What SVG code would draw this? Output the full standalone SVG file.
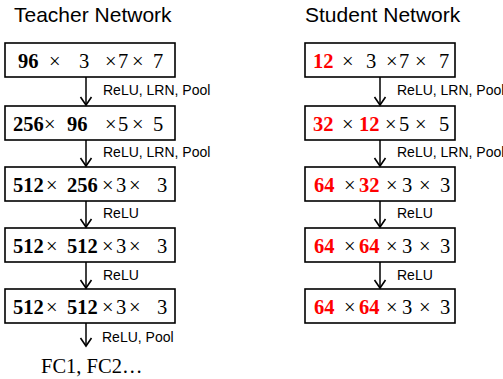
<svg xmlns="http://www.w3.org/2000/svg" width="503" height="379" viewBox="0 0 503 379">
  <style>
    .title { font-family: "Liberation Sans", Arial, sans-serif; font-size: 21px; fill: #000; }
    .box { fill: #fff; stroke: #000; stroke-width: 1.6; }
    .dim { font-family: "Liberation Serif", "Times New Roman", serif; font-size: 20.5px; fill: #000; }
    .b { font-weight: bold; }
    .r { font-weight: bold; fill: #ff0000; }
    .op { font-family: "Liberation Sans", Arial, sans-serif; font-size: 14px; fill: #000; }
    .conn { stroke: #000; stroke-width: 1.5; fill: none; }
  </style>
  <defs>
    <marker id="arrow" viewBox="-10 -7 12 14" refX="0" refY="0" markerWidth="12" markerHeight="14" markerUnits="userSpaceOnUse" orient="auto">
      <path d="M -8,-5.5 L 0,0 L -8,5.5" fill="none" stroke="#000" stroke-width="1.6"/>
    </marker>
  </defs>

  <text class="title" x="14" y="22">Teacher Network</text>
  <text class="title" x="305" y="22">Student Network</text>

  <!-- teacher column -->
  <g id="t1">
    <rect class="box" x="5" y="43" width="170" height="34"/>
    <text class="dim" y="68"><tspan class="b" x="18">96</tspan><tspan x="49">×</tspan><tspan x="79">3</tspan><tspan x="105">×</tspan><tspan x="118">7</tspan><tspan x="132">×</tspan><tspan x="153">7</tspan></text>
  </g>
  <g id="t2">
    <rect class="box" x="5" y="106" width="170" height="34"/>
    <text class="dim" y="131"><tspan class="b" x="13">256</tspan><tspan x="44">×</tspan><tspan class="b" x="67">96</tspan><tspan x="105">×</tspan><tspan x="118">5</tspan><tspan x="132">×</tspan><tspan x="153">5</tspan></text>
  </g>
  <g id="t3">
    <rect class="box" x="5" y="167" width="170" height="34"/>
    <text class="dim" y="192"><tspan class="b" x="13">512</tspan><tspan x="46">×</tspan><tspan class="b" x="67">256</tspan><tspan x="102">×</tspan><tspan x="116">3</tspan><tspan x="129">×</tspan><tspan x="157">3</tspan></text>
  </g>
  <g id="t4">
    <rect class="box" x="5" y="228" width="170" height="34"/>
    <text class="dim" y="253"><tspan class="b" x="13">512</tspan><tspan x="46">×</tspan><tspan class="b" x="67">512</tspan><tspan x="102">×</tspan><tspan x="116">3</tspan><tspan x="129">×</tspan><tspan x="157">3</tspan></text>
  </g>
  <g id="t5">
    <rect class="box" x="5" y="289" width="170" height="34"/>
    <text class="dim" y="314"><tspan class="b" x="13">512</tspan><tspan x="46">×</tspan><tspan class="b" x="67">512</tspan><tspan x="102">×</tspan><tspan x="116">3</tspan><tspan x="129">×</tspan><tspan x="157">3</tspan></text>
  </g>
  <g id="fc">
    <text class="dim" x="41" y="373" font-size="21">FC1, FC2…</text>
  </g>

  <!-- student column -->
  <g id="s1">
    <rect class="box" x="305" y="43" width="150" height="34"/>
    <text class="dim" y="68"><tspan class="r" x="313">12</tspan><tspan x="342">×</tspan><tspan x="366">3</tspan><tspan x="386">×</tspan><tspan x="399">7</tspan><tspan x="415">×</tspan><tspan x="439">7</tspan></text>
  </g>
  <g id="s2">
    <rect class="box" x="305" y="106" width="150" height="34"/>
    <text class="dim" y="131"><tspan class="r" x="313">32</tspan><tspan x="342">×</tspan><tspan class="r" x="359">12</tspan><tspan x="385">×</tspan><tspan x="399">5</tspan><tspan x="415">×</tspan><tspan x="439">5</tspan></text>
  </g>
  <g id="s3">
    <rect class="box" x="305" y="167" width="150" height="34"/>
    <text class="dim" y="192"><tspan class="r" x="314">64</tspan><tspan x="344">×</tspan><tspan class="r" x="359">32</tspan><tspan x="386">×</tspan><tspan x="402">3</tspan><tspan x="419">×</tspan><tspan x="440">3</tspan></text>
  </g>
  <g id="s4">
    <rect class="box" x="305" y="228" width="150" height="34"/>
    <text class="dim" y="253"><tspan class="r" x="314">64</tspan><tspan x="344">×</tspan><tspan class="r" x="359">64</tspan><tspan x="386">×</tspan><tspan x="402">3</tspan><tspan x="419">×</tspan><tspan x="440">3</tspan></text>
  </g>
  <g id="s5">
    <rect class="box" x="305" y="289" width="150" height="34"/>
    <text class="dim" y="314"><tspan class="r" x="314">64</tspan><tspan x="344">×</tspan><tspan class="r" x="359">64</tspan><tspan x="386">×</tspan><tspan x="402">3</tspan><tspan x="419">×</tspan><tspan x="440">3</tspan></text>
  </g>

  <!-- connectors with layer operation labels -->
  <g id="connectors">
    <line class="conn" x1="86" y1="77" x2="86" y2="105" marker-end="url(#arrow)"/>
    <line class="conn" x1="86" y1="140" x2="86" y2="166" marker-end="url(#arrow)"/>
    <line class="conn" x1="86" y1="201" x2="86" y2="227" marker-end="url(#arrow)"/>
    <line class="conn" x1="86" y1="262" x2="86" y2="288" marker-end="url(#arrow)"/>
    <line class="conn" x1="86" y1="323" x2="86" y2="346" marker-end="url(#arrow)"/>
    <line class="conn" x1="380" y1="77" x2="380" y2="105" marker-end="url(#arrow)"/>
    <line class="conn" x1="380" y1="140" x2="380" y2="166" marker-end="url(#arrow)"/>
    <line class="conn" x1="380" y1="201" x2="380" y2="227" marker-end="url(#arrow)"/>
    <line class="conn" x1="380" y1="262" x2="380" y2="288" marker-end="url(#arrow)"/>

    <text class="op" x="103" y="95">ReLU, LRN, Pool</text>
    <text class="op" x="103" y="157">ReLU, LRN, Pool</text>
    <text class="op" x="103" y="218">ReLU</text>
    <text class="op" x="103" y="280">ReLU</text>
    <text class="op" x="102" y="342">ReLU, Pool</text>
    <text class="op" x="397" y="95">ReLU, LRN, Pool</text>
    <text class="op" x="397" y="157">ReLU, LRN, Pool</text>
    <text class="op" x="397" y="218">ReLU</text>
    <text class="op" x="397" y="280">ReLU</text>
  </g>
</svg>
